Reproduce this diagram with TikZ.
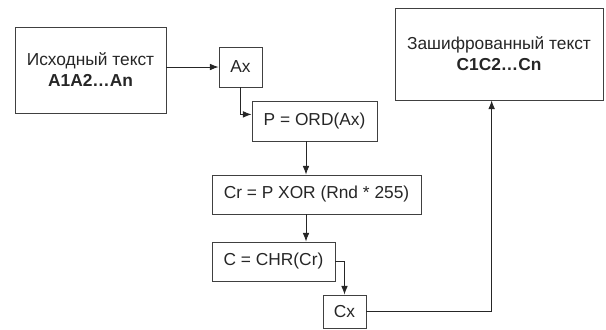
\documentclass[tikz,border=0pt]{standalone}
\usepackage{fontspec}
\setmainfont{Liberation Sans}
\usetikzlibrary{arrows.meta}
\begin{document}
\begin{tikzpicture}[x=0.75pt,y=-0.75pt,font=\fontsize{13pt}{15.75pt}\selectfont,text=black!85,box/.style={draw=black!75, line width=0.65pt, inner sep=0pt, align=center},link/.style={draw=black!85, line width=0.65pt, -{Latex[length=6.5pt,width=5pt]}}]
\useasboundingbox (0,0) rectangle (606,329);
\node[box, minimum width=151*0.75pt, minimum height=86*0.75pt] (src) at (90.5,70) {Исходный текст\\\textbf{A1A2…An}};
\node[box, minimum width=43*0.75pt, minimum height=40*0.75pt] (ax) at (240.5,67) {Ax};
\node[box, minimum width=125*0.75pt, minimum height=40*0.75pt] (ord) at (314.5,121) {P = ORD(Ax)};
\node[box, minimum width=209*0.75pt, minimum height=39*0.75pt] (xor) at (316.5,194.5) {Cr = P XOR (Rnd * 255)};
\node[box, minimum width=123*0.75pt, minimum height=39*0.75pt] (chr) at (273.5,261.5) {C = CHR(Cr)};
\node[box, minimum width=43*0.75pt, minimum height=33*0.75pt] (cx) at (344.5,311.5) {Cx};
\node[box, minimum width=208*0.75pt, minimum height=92*0.75pt] (dst) at (499,54) {Зашифрованный текст\\\textbf{C1C2…Cn}};
\coordinate (axis) at (306,0);
\draw[link] (src.east |- ax.west) -- (ax.west);
\draw[link] (ax.south) |- (ord.174);
\draw[link] (ord.south -| axis) -- (xor.north -| axis);
\draw[link] (xor.south -| axis) -- (chr.north -| axis);
\draw[link] (chr.east) -| (cx.north);
\draw[link] (cx.east) -| (dst.261);
\end{tikzpicture}
\end{document}
